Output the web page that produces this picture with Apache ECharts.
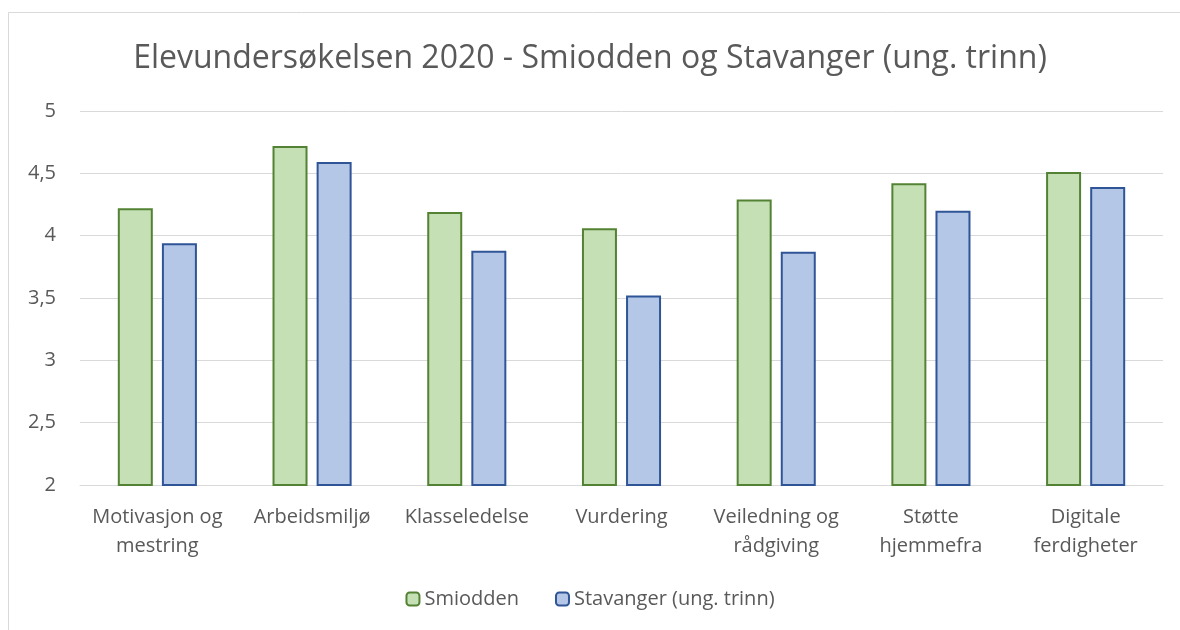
<!DOCTYPE html>
<html>
<head>
<meta charset="utf-8">
<script src="https://cdn.jsdelivr.net/npm/echarts@6/dist/echarts.min.js"></script>
<style>
  html, body { margin: 0; padding: 0; background: #fff; }
  #chart { width: 1180px; height: 630px; }
</style>
</head>
<body>
<div id="chart"></div>
<script>
const categories = ['Motivasjon og\nmestring', 'Arbeidsmiljø', 'Klasseledelse', 'Vurdering',
  'Veiledning og\nrådgiving', 'Støtte\nhjemmefra', 'Digitale\nferdigheter'];
const smiodden = [4.22, 4.72, 4.19, 4.06, 4.29, 4.42, 4.51];
const stavanger = [3.94, 4.59, 3.88, 3.52, 3.87, 4.20, 4.39];
const yTicks = [2, 2.5, 3, 3.5, 4, 4.5, 5];

const font = 'Open Sans';
const textColor = '#595959';

const chart = echarts.init(document.getElementById('chart'));
chart.setOption({
  animation: false,
  textStyle: { fontFamily: font },
  graphic: [{
    type: 'rect',
    shape: { x: 8.5, y: 12.5, width: 1180, height: 640 },
    style: { fill: 'none', stroke: '#d9d9d9', lineWidth: 1 },
    silent: true
  }],
  title: {
    text: 'Elevundersøkelsen 2020 - Smiodden og Stavanger (ung. trinn)',
    left: 'center',
    top: 38,
    textStyle: { fontFamily: font, fontSize: 32, fontWeight: 'normal', color: textColor }
  },
  legend: {
    bottom: 16,
    left: 'center',
    itemWidth: 13,
    itemHeight: 13,
    itemGap: 36,
    textStyle: { fontFamily: font, fontSize: 20, color: textColor },
    data: ['Smiodden', 'Stavanger (ung. trinn)']
  },
  grid: { left: 80, right: 17, top: 111, bottom: 145 },
  xAxis: {
    type: 'category',
    data: categories,
    axisLine: { lineStyle: { color: '#d9d9d9', width: 1 } },
    axisTick: { show: false },
    axisLabel: { fontFamily: font, fontSize: 20, color: textColor, margin: 18, lineHeight: 29, interval: 0 }
  },
  yAxis: {
    type: 'value',
    min: yTicks[0],
    max: yTicks[yTicks.length - 1],
    interval: 0.5,
    axisLine: { show: false },
    axisTick: { show: false },
    splitLine: { lineStyle: { color: '#d9d9d9', width: 1 } },
    axisLabel: {
      fontFamily: font, fontSize: 20, color: textColor, margin: 24,
      formatter: v => String(v).replace('.', ',')
    }
  },
  series: [
    {
      name: 'Smiodden',
      type: 'bar',
      data: smiodden,
      barWidth: 35,
      barGap: '26%',
      itemStyle: { color: '#c5e0b4', borderColor: '#548235', borderWidth: 2 }
    },
    {
      name: 'Stavanger (ung. trinn)',
      type: 'bar',
      data: stavanger,
      barWidth: 35,
      itemStyle: { color: '#b4c7e7', borderColor: '#2f5597', borderWidth: 2 }
    }
  ]
});
</script>
</body>
</html>
